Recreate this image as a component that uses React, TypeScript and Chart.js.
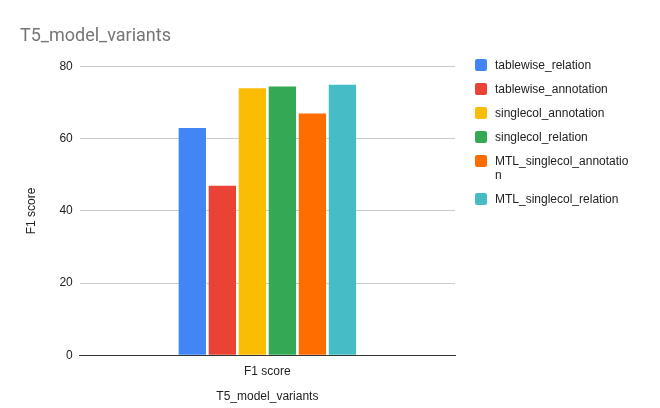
import { useEffect, useRef } from 'react'
import { Chart, registerables, type ChartConfiguration } from 'chart.js'

Chart.register(...registerables)

const categories = ['F1 score']
const seriesNames = [
  'tablewise_relation',
  'tablewise_annotation',
  'singlecol_annotation',
  'singlecol_relation',
  'MTL_singlecol_annotation',
  'MTL_singlecol_relation',
]
const seriesValues = [63, 47, 74, 74.5, 67, 75]
const seriesColors = ['#4285F4', '#EA4335', '#FBBC04', '#34A853', '#FF6D01', '#46BDC6']
const yTicks = [0, 20, 40, 60, 80]

const font = '"Liberation Sans", Arial, sans-serif'

export default function App() {
  const canvasRef = useRef<HTMLCanvasElement | null>(null)

  useEffect(() => {
    document.body.style.margin = '0'
    const canvas = canvasRef.current
    if (!canvas) return

    const config: ChartConfiguration<'bar'> = {
      type: 'bar',
      data: {
        labels: categories,
        datasets: seriesNames.map((name, i) => ({
          label: name,
          data: [seriesValues[i]],
          backgroundColor: seriesColors[i],
          barPercentage: 0.91,
          categoryPercentage: 0.48,
        })),
      },
      options: {
        animation: false,
        responsive: false,
        layout: { padding: { left: 20, right: 205, top: 14, bottom: 0 } },
        plugins: {
          legend: { display: false },
          tooltip: { enabled: false },
          title: {
            display: true,
            text: 'T5_model_variants',
            align: 'start',
            color: '#757575',
            font: { family: 'Roboto, sans-serif', size: 18, weight: 'normal' },
            padding: { top: 12, bottom: 19 },
          },
        },
        scales: {
          x: {
            grid: { display: false },
            border: { color: '#333333' },
            ticks: { color: '#222222', font: { family: font, size: 12 }, padding: 1 },
            title: {
              display: true,
              text: 'T5_model_variants',
              color: '#222222',
              font: { family: font, size: 12 },
              padding: { top: 10 },
            },
          },
          y: {
            min: 0,
            max: 80,
            afterBuildTicks: (axis) => {
              axis.ticks = yTicks.map((v) => ({ value: v }))
            },
            grid: { color: '#cccccc', drawTicks: false },
            border: { display: false },
            ticks: { color: '#222222', font: { family: font, size: 12 }, padding: 7 },
            title: {
              display: true,
              text: 'F1 score',
              color: '#222222',
              font: { family: font, size: 12 },
              padding: { bottom: 14 },
            },
          },
        },
      },
    }

    const chart = new Chart(canvas, config)
    return () => chart.destroy()
  }, [])

  return (
    <div style={{ position: 'relative', width: 660, height: 408, background: '#fff' }}>
      <canvas ref={canvasRef} width={660} height={408} />
      <div
        style={{
          position: 'absolute',
          left: 475,
          top: 58,
          width: 170,
          display: 'flex',
          flexDirection: 'column',
          gap: 10,
          fontFamily: font,
          fontSize: 12,
          lineHeight: '14px',
          color: '#222222',
        }}
      >
        {seriesNames.map((name, i) => (
          <div key={name} style={{ display: 'flex', alignItems: 'flex-start' }}>
            <span
              style={{
                width: 12,
                height: 12,
                marginTop: 1,
                marginRight: 8,
                flexShrink: 0,
                background: seriesColors[i],
                borderRadius: 2,
              }}
            />
            <span style={{ width: 140, wordBreak: 'break-all' }}>{name}</span>
          </div>
        ))}
      </div>
    </div>
  )
}
